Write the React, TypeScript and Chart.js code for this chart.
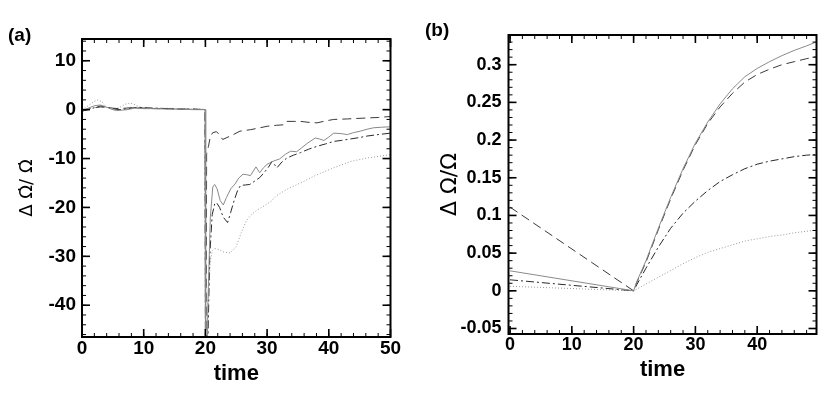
import React, { useEffect, useRef } from 'react';
import { Chart, registerables } from 'chart.js';

Chart.register(...registerables);

type P = [number, number];

// Panel (a) series: time vs relative change of spin-down rate
const aSolid: P[] = [
  [0, -0.2], [1, 0.3], [2, 0.8], [3, 0.95], [4, 0.5], [5, 0.0], [5.6, -0.2], [6.5, -0.1], [7.3, 0.0], [8.5, 0.3],
  [10, 0.2], [12, 0.2], [14, 0.1], [16, 0.1], [18, 0.0], [19.95, 0.0],
  [20.05, -80], [20.4, -40], [20.8, -22], [21.2, -15.8], [21.5, -15.3], [21.9, -16.2], [22.4, -18.6], [22.9, -19.5],
  [23.4, -18], [24.1, -16.2], [24.8, -15.2], [25.4, -14], [26.1, -13.2], [26.7, -13.3], [27.3, -13.5], [28.2, -11.7],
  [28.8, -12.9], [29.4, -11.9], [30, -11.2], [30.7, -10.7], [31.3, -10.4], [32, -10.1], [33, -9.1], [33.8, -8.5],
  [34.8, -8.6], [35.6, -7.8], [36.5, -6.9], [37.8, -5.8], [38.5, -6.0], [39.2, -6.3], [40, -5.6], [40.8, -4.8],
  [42, -4.9], [43, -5.1], [44, -4.7], [45.1, -4.4], [46.2, -4.0], [47.3, -3.7], [48.5, -3.6], [50, -3.5],
];
const aDashed: P[] = [
  [0, -0.3], [1, 0.1], [2, 0.4], [3, 0.55], [4, 0.45], [5, 0.3], [6, 0.2], [8, 0.4], [10, 0.3], [12, 0.2],
  [14, 0.2], [16, 0.1], [18, 0.1], [19.95, 0.0],
  [20.05, -80], [20.2, -9], [20.5, -7.5], [20.8, -5.5], [21.2, -4.7], [21.8, -4.5], [22.3, -5.2], [22.8, -6.1],
  [23.5, -5.7], [24.2, -5.3], [25.6, -4.4], [27.3, -4.1], [28.5, -3.8], [30, -3.4], [31.5, -3.2], [32.7, -3.1],
  [33.2, -2.4], [34.5, -2.4], [35.4, -2.4], [36.8, -2.6], [38.1, -2.7], [39.5, -2.3], [40.8, -2.0], [43, -1.9],
  [46.2, -1.7], [48, -1.6], [50, -1.4],
];
const aDashDot: P[] = [
  [0, -0.3], [1, 0.0], [2, 0.4], [3, 0.75], [4, 0.55], [5, 0.2], [6, 0.0], [7, 0.1], [8, 0.3], [9, 0.5],
  [10, 0.4], [12, 0.3], [14, 0.2], [16, 0.1], [18, 0.1], [19.95, 0.0],
  [20.05, -80], [20.4, -48], [20.7, -30], [21.1, -21.5], [21.5, -19.3], [21.8, -19.0], [22.3, -20], [22.9, -22],
  [23.6, -23.1], [24.1, -21], [24.7, -18.4], [25.2, -16.6], [25.7, -15.5], [26.5, -15.4], [27.2, -15.3],
  [28, -14.6], [28.8, -13.9], [29.5, -12.9], [30.2, -11.8], [30.8, -10.6], [31.6, -11.9], [32.4, -10.7],
  [33.2, -9.9], [34.3, -9.3], [35.4, -8.8], [36.7, -8.1], [38.1, -7.5], [39.5, -7.0], [40.8, -6.5], [42, -6.3],
  [43.5, -6.0], [45, -5.7], [46.2, -5.4], [48, -5.1], [50, -4.8],
];
const aDotted: P[] = [
  [0, 0.0], [1, 0.8], [2, 1.7], [2.65, 2.0], [3.3, 1.5], [4, 0.4], [5.1, 0.0], [6, 0.4], [7, 1.1], [7.8, 1.35],
  [8.6, 1.0], [9.4, 0.5], [11, 0.3], [13, 0.3], [15, 0.25], [17, 0.2], [19.95, 0.1],
  [20.05, -80], [20.3, -45], [20.5, -38], [20.8, -31], [21.1, -28.9], [21.5, -28.4], [22.2, -28.6], [22.9, -29.1],
  [24, -29.3], [25, -28], [25.8, -25.2], [26.6, -22.8], [27.4, -21.5], [28.2, -20.7], [29.5, -19.7], [30.7, -18.7],
  [31.5, -17.6], [33.2, -16.3], [35.4, -15], [38.1, -13.3], [40.8, -11.9], [43.5, -10.6], [46.2, -9.9], [50, -9.2],
];
const aXTicks = [0, 10, 20, 30, 40, 50];
const aYTicks = [-40, -30, -20, -10, 0, 10];

// Panel (b) series: time vs relative change of spin
const bSolid: P[] = [
  [0, 0.0265], [20, 0], [20.5, 0.012], [22, 0.04], [24, 0.083], [26, 0.124], [28, 0.162], [30, 0.196],
  [32, 0.224], [34, 0.248], [36, 0.268], [38, 0.284], [40, 0.295], [42, 0.304], [44, 0.312], [46, 0.319],
  [48, 0.325], [49.8, 0.331],
];
const bDashed: P[] = [
  [0, 0.111], [20, 0], [20.5, 0.011], [22, 0.038], [24, 0.081], [26, 0.122], [28, 0.16], [30, 0.194],
  [32, 0.222], [34, 0.244], [36, 0.262], [38, 0.277], [40, 0.287], [42, 0.294], [44, 0.3], [46, 0.304],
  [48, 0.308], [49.8, 0.311],
];
const bDashDot: P[] = [
  [0, 0.0146], [20, 0], [20.5, 0.008], [22, 0.03], [24, 0.058], [26, 0.083], [28, 0.103], [30, 0.119],
  [32, 0.133], [34, 0.145], [36, 0.154], [38, 0.162], [40, 0.168], [42, 0.172], [44, 0.175], [46, 0.178],
  [48, 0.18], [49.8, 0.181],
];
const bDotted: P[] = [
  [0, 0.006], [20, 0], [22, 0.009], [24, 0.018], [26, 0.027], [28, 0.036], [30, 0.044], [32, 0.051],
  [34, 0.056], [36, 0.061], [38, 0.066], [40, 0.069], [42, 0.072], [44, 0.074], [46, 0.077], [48, 0.079],
  [49.8, 0.081],
];
const bXTicks = [0, 10, 20, 30, 40];
const bYTicks = [-0.05, 0, 0.05, 0.1, 0.15, 0.2, 0.25, 0.3];
const bYTickLabels = ['-0.05', '0', '0.05', '0.1', '0.15', '0.2', '0.25', '0.3'];

const aYTitle = '\u0394 \u03A9\u0307/ \u03A9\u0307';
const bYTitle = '\u0394 \u03A9/\u03A9';

const FONT = "'Liberation Sans', Arial, sans-serif";
const TITLE_FONT = "'DejaVu Sans', 'Liberation Sans', sans-serif";

const colors = ['#8a8a8a', '#3a3a3a', '#2a2a2a', '#9a9a9a'];
const dashes = [[], [9, 5], [8, 3, 2, 3], [1, 2]];

function buildChart(canvas: HTMLCanvasElement, c: any) {
  const W = 415;
  const H = 395;
  const plugin = {
    id: 'frameTicks',
    afterDraw(chart: any) {
      const { ctx, chartArea } = chart;
      const { left, right, top, bottom } = chartArea;
      const xs = chart.scales.x;
      const ys = chart.scales.y;
      const seg = (x1: number, y1: number, x2: number, y2: number) => {
        ctx.beginPath(); ctx.moveTo(x1, y1); ctx.lineTo(x2, y2); ctx.stroke();
      };
      ctx.save();
      ctx.strokeStyle = '#000';
      ctx.setLineDash([]);
      ctx.lineWidth = 1;
      for (let k = 0; k <= c.xMinorCount; k++) {
        const px = xs.getPixelForValue(k * c.xMinor);
        seg(px, bottom, px, bottom - 4);
        seg(px, top, px, top + 4);
      }
      for (let k = c.yMinorFrom; k <= c.yMinorTo; k++) {
        const py = ys.getPixelForValue(k * c.yMinor);
        seg(left, py, left + 4, py);
        seg(right, py, right - 4, py);
      }
      ctx.lineWidth = 1.6;
      for (let i = 0; i < c.xTicks.length; i++) {
        const px = xs.getPixelForValue(c.xTicks[i]);
        seg(px, bottom, px, bottom - 8);
        seg(px, top, px, top + 8);
      }
      for (let i = 0; i < c.yTicks.length; i++) {
        const py = ys.getPixelForValue(c.yTicks[i]);
        seg(left, py, left + 8, py);
        seg(right, py, right - 8, py);
      }
      ctx.lineWidth = 2;
      ctx.strokeRect(left, top, right - left, bottom - top);
      ctx.fillStyle = '#000';
      ctx.font = 'bold 19px ' + FONT;
      ctx.textAlign = 'left';
      ctx.textBaseline = 'alphabetic';
      ctx.fillText(c.label, c.labelX, c.labelY);
      ctx.restore();
    },
  };
  const yLh = c.yTitleSize * 1.2;
  const xLh = 22 * 1.2;
  return new Chart(canvas, {
    type: 'line',
    data: {
      datasets: c.series.map((s: P[], i: number) => ({
        data: s.map(([x, y]) => ({ x, y })),
        borderColor: colors[i],
        borderDash: dashes[i],
        borderWidth: 1,
        pointRadius: 0,
        tension: 0,
      })),
    },
    options: {
      animation: false,
      responsive: false,
      devicePixelRatio: 1,
      events: [],
      layout: { padding: { left: 0, right: W - c.areaRight, top: c.areaTop, bottom: 0 } },
      plugins: { legend: { display: false }, tooltip: { enabled: false } },
      scales: {
        x: {
          type: 'linear', min: c.xMin, max: c.xMax,
          afterBuildTicks: (s: any) => { s.ticks = c.xTicks.map((v: number) => ({ value: v })); },
          afterFit: (s: any) => { s.height = H - c.areaBottom; },
          grid: { display: false, drawTicks: false },
          border: { display: false },
          ticks: { color: '#000', font: { family: FONT, size: c.tickSize, weight: 'bold' }, padding: 0, maxRotation: 0, autoSkip: false },
          title: {
            display: true, text: 'time', color: '#000',
            font: { family: FONT, size: 22, weight: 'bold', lineHeight: 1.2 },
            padding: { top: 0, bottom: H - c.xTitleCenter - xLh / 2 },
          },
        },
        y: {
          type: 'linear', min: c.yMin, max: c.yMax,
          afterBuildTicks: (s: any) => { s.ticks = c.yTicks.map((v: number) => ({ value: v })); },
          afterFit: (s: any) => { s.width = c.areaLeft; },
          grid: { display: false, drawTicks: false },
          border: { display: false },
          ticks: {
            color: '#000', font: { family: FONT, size: c.tickSize, weight: 'bold' }, padding: c.yTickPad, autoSkip: false,
            callback: (v: any) => {
              if (c.yLabels) {
                const idx = c.yTicks.findIndex((t: number) => Math.abs(t - v) < 1e-9);
                if (idx >= 0) return c.yLabels[idx];
              }
              return String(v);
            },
          },
          title: {
            display: true, text: c.yTitle, color: '#000',
            font: { family: TITLE_FONT, size: c.yTitleSize, weight: 'normal', lineHeight: 1.2 },
            padding: { top: c.yTitleCenter - yLh / 2, bottom: 0 },
          },
        },
      },
    },
    plugins: [plugin],
  } as any);
}

export default function App() {
  const refA = useRef<HTMLCanvasElement | null>(null);
  const refB = useRef<HTMLCanvasElement | null>(null);
  useEffect(() => {
    if (!refA.current || !refB.current) return;
    const chartA = buildChart(refA.current, {
      series: [aSolid, aDashed, aDashDot, aDotted],
      xMin: 0, xMax: 50, yMin: -46.5, yMax: 14.45,
      xTicks: aXTicks, yTicks: aYTicks,
      xMinor: 2, xMinorCount: 25, yMinor: 2, yMinorFrom: -23, yMinorTo: 7,
      areaLeft: 82, areaRight: 390.5, areaTop: 39, areaBottom: 337,
      yTitle: aYTitle, yTitleSize: 18, yTitleCenter: 27, xTitleCenter: 374,
      tickSize: 19, yTickPad: 6,
      label: '(a)', labelX: 8, labelY: 41,
    });
    const chartB = buildChart(refB.current, {
      series: [bSolid, bDashed, bDashDot, bDotted],
      xMin: -0.25, xMax: 49.6, yMin: -0.0573, yMax: 0.3394,
      xTicks: bXTicks, yTicks: bYTicks, yLabels: bYTickLabels,
      xMinor: 2, xMinorCount: 24, yMinor: 0.01, yMinorFrom: -5, yMinorTo: 33,
      areaLeft: 93.5, areaRight: 401.5, areaTop: 35, areaBottom: 334,
      yTitle: bYTitle, yTitleSize: 22, yTitleCenter: 35, xTitleCenter: 370,
      tickSize: 18, yTickPad: 7,
      label: '(b)', labelX: 10, labelY: 36,
    });
    return () => { chartA.destroy(); chartB.destroy(); };
  }, []);
  return (
    <div>
      <canvas ref={refA} width={415} height={395} style={{ width: 415, height: 395, position: 'absolute', left: 0, top: 0 }} />
      <canvas ref={refB} width={415} height={395} style={{ width: 415, height: 395, position: 'absolute', left: 415, top: 0 }} />
    </div>
  );
}
